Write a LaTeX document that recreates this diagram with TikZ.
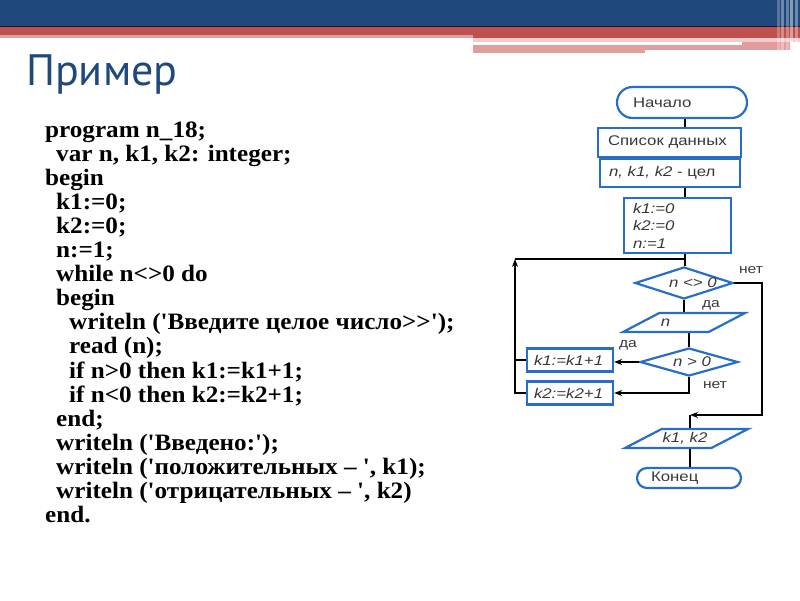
\documentclass[tikz,border=0pt]{standalone}
\usepackage{fontspec}
\usetikzlibrary{shapes.geometric,arrows.meta}
\newfontfamily\codefont{Liberation Serif}[Ligatures=TeXOff,FakeStretch=1.07]
\newfontfamily\titlefont{PT Sans}
\newfontfamily\ff{Liberation Sans}[FakeStretch=1.2]
\definecolor{hblue}{RGB}{31,73,125}
\definecolor{hred}{RGB}{192,80,77}
\definecolor{hpink}{RGB}{226,158,156}
\definecolor{hlpink}{RGB}{240,205,204}
\definecolor{fblue}{RGB}{40,110,200}
\definecolor{ftext}{RGB}{55,55,55}
\tikzset{
  fbox/.style={draw=fblue, line width=2.2, rectangle, inner sep=0, font=\ff\fontsize{14}{16}\selectfont, text=ftext, align=left},
  para/.style={draw=fblue, line width=2.2, trapezium, trapezium stretches=true, inner sep=2pt, trapezium left angle=53.6, trapezium right angle=126.4},
  dia/.style={draw=fblue, line width=2.2, diamond, inner sep=1pt},
  intext/.style={font=\ff\itshape\fontsize{14}{16}\selectfont, text=ftext, inner sep=0},
  conn/.style={draw=black, line width=1.5},
  arr/.style={conn, -{Stealth[length=8pt,width=6pt]}},
  lbl/.style={font=\ff\fontsize{13}{15}\selectfont, text=ftext, inner sep=0},
  code/.style={font=\codefont\bfseries\fontsize{23.5}{24}\selectfont, inner sep=0, anchor=base west},
}
\begin{document}
\begin{tikzpicture}[x=1pt,y=-1pt]
\useasboundingbox (0,0) rectangle (800,600);
% header bands
\fill[hblue] (0,0) rectangle (800,26);
\fill[black!60!hblue] (0,26) rectangle (800,27);
\fill[hred] (0,27) rectangle (800,35);
\fill[hred] (473,35) rectangle (800,38);
\fill[hpink] (0,35) rectangle (473,38);
\fill[hlpink] (473,38) rectangle (800,42);
\fill[hpink] (742,42) rectangle (790,45);
\fill[hpink] (473,45) rectangle (790,50);
\fill[hpink] (473,50) rectangle (645,53);
\foreach \sx/\op in {777/0.25,781/0.35,786/0.3,790/0.45,795/0.35}
  \fill[white,opacity=\op] (\sx,0) rectangle ++(2.5,53);
% title
\node[font=\titlefont\fontsize{44}{48}\selectfont, text=hblue, anchor=base west, inner sep=0] (title) at (26,85) {Пример};
% code
\foreach \ind/\t [count=\i] in {
  0/{program n\_18;},
  11/{var n, k1, k2: integer;},
  0/{begin},
  11/{k1:=0;},
  11/{k2:=0;},
  11/{n:=1;},
  11/{while n<>0 do},
  11/{begin},
  24/{writeln ('Введите целое число>>');},
  24/{read (n);},
  24/{if n>0 then k1:=k1+1;},
  24/{if n<0 then k2:=k2+1;},
  11/{end;},
  11/{writeln ('Введено:');},
  11/{writeln ('положительных – ', k1);},
  11/{writeln ('отрицательных – ', k2)},
  0/{end.}}
  \node[code] (c\i) at (45+\ind,137+24.1*\i-24.1) {\t};
% flowchart
\coordinate (ax) at (685,0);
\coordinate (lx) at (515,0);
\node[fbox, rounded corners=15.5, minimum height=31, text width=98, inner xsep=16] (start) at (682,102.5) {Начало};
\node[fbox, minimum height=29, text width=123, inner xsep=10] (list1) at (669.5,142.5) {Список данных};
\node[fbox, minimum height=28, text width=122, inner xsep=9] (list2) at (670,173) {\textit{n, k1, k2} - цел};
\node[fbox, minimum height=55, text width=89, inner xsep=9, font=\ff\itshape\fontsize{14}{17.5}\selectfont] (init) at (677.5,225.5) {k1:=0\\k2:=0\\n:=1};
\node[dia, minimum width=98, minimum height=32, label={[intext, xshift=9pt]center:n <> 0}] (nz) at (684,283) {};
\node[para, minimum width=122, minimum height=19, label={[intext, xshift=-18.5pt]center:n}] (pn) at (684,322.5) {};
\node[dia, minimum width=98, minimum height=28, label={[intext, xshift=3pt]center:n > 0}] (gz) at (689,362) {};
\node[fbox, minimum height=23, text width=72, inner xsep=7, font=\ff\itshape\fontsize{14}{16}\selectfont] (k1) at (570,360) {k1:=k1+1};
\node[fbox, minimum height=23, text width=72, inner xsep=7, font=\ff\itshape\fontsize{14}{16}\selectfont] (k2) at (570,393) {k2:=k2+1};
\node[para, minimum width=123, minimum height=19, label={[intext, xshift=-1.5pt]center:k1, k2}] (out) at (686.5,438.5) {};
\node[fbox, rounded corners=10, minimum height=20, text width=76, inner xsep=14] (end) at (689,478) {Конец};
\coordinate (corner) at (515,259);
\coordinate (rt) at (762,415);
\coordinate (mrg) at (690,415);
% connectors
\draw[conn] (start.south -| ax) -- (list1.north -| ax);
\draw[conn] (list2.south -| ax) -- (init.north -| ax);
\draw[conn] (init.south -| ax) -- (nz.north -| ax);
\draw[conn] (nz.south) -- (pn.north);
\draw[conn] (pn.south -| gz.north) -- (gz.north);
\draw[arr] (gz.west) -- (k1.east |- gz.west);
\draw[arr] (gz.south) |- (k2.east);
\draw[conn] (k1.west) -- (k1.west -| lx);
\draw[arr] (k2.west) -| (corner);
\draw[conn] (corner) -- (corner -| ax);
\draw[arr] (nz.east) -| (rt) -- (mrg);
\draw[conn] (mrg) -- (out.north -| mrg);
\draw[conn] (out.south -| mrg) -- (end.north -| mrg);
% labels
\node[lbl] (l1) at (751,270) {нет};
\node[lbl] (l2) at (711,305) {да};
\node[lbl] (l3) at (628,345) {да};
\node[lbl] (l4) at (715,385) {нет};
\end{tikzpicture}
\end{document}
